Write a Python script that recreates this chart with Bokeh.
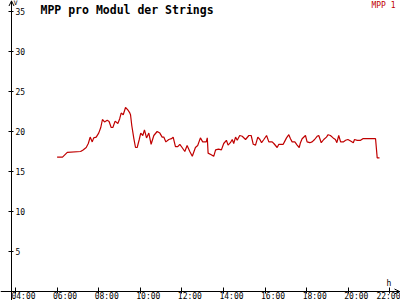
from bokeh.plotting import figure
from bokeh.models import LinearAxis, FixedTicker, Range1d, Arrow, OpenHead, Label
from bokeh.embed import file_html
from bokeh.resources import INLINE

# ---- data (time of day in decimal hours, MPP value per module) ----
hours = [6.00, 6.26, 6.49, 7.13, 7.25, 7.40, 7.50, 7.59, 7.69, 7.76, 7.88, 8.00, 8.10, 8.18,
         8.28, 8.41, 8.50, 8.60, 8.68, 8.79, 8.92, 9.01, 9.08, 9.18, 9.29, 9.40, 9.48, 9.53,
         9.59, 9.69, 9.77, 9.85, 9.95, 10.02, 10.12, 10.20, 10.30, 10.41, 10.52, 10.65, 10.81,
         10.94, 11.05, 11.13, 11.23, 11.37, 11.50, 11.58, 11.69, 11.80, 11.90, 12.01, 12.14,
         12.25, 12.38, 12.50, 12.65, 12.76, 12.89, 13.00, 13.17, 13.22, 13.26, 13.41, 13.53,
         13.62, 13.76, 13.90, 14.01, 14.14, 14.22, 14.33, 14.42, 14.49, 14.58, 14.66, 14.78,
         14.90, 15.06, 15.22, 15.33, 15.43, 15.54, 15.65, 15.75, 15.83, 15.94, 16.07, 16.18,
         16.34, 16.42, 16.58, 16.66, 16.87, 16.93, 17.03, 17.14, 17.22, 17.30, 17.43, 17.54,
         17.64, 17.70, 17.78, 17.94, 18.02, 18.15, 18.26, 18.38, 18.50, 18.58, 18.70, 18.82,
         18.95, 19.03, 19.14, 19.27, 19.38, 19.45, 19.54, 19.63, 19.76, 19.87, 19.98, 20.11,
         20.24, 20.30, 20.43, 20.59, 20.70, 21.31, 21.39, 21.50]
mpp = [16.8, 16.8, 17.4, 17.5, 17.7, 18.0, 18.5, 19.3, 18.7, 19.2, 19.3, 19.8, 20.5, 21.5,
       21.2, 21.4, 21.25, 20.5, 20.5, 21.3, 21.0, 21.6, 22.3, 22.1, 23.0, 22.7, 22.4, 22.1,
       20.75, 19.1, 18.0, 18.0, 19.0, 19.8, 19.5, 20.2, 19.2, 19.8, 18.4, 19.5, 20.0,
       19.8, 19.3, 19.3, 18.7, 19.0, 19.1, 19.3, 18.1, 18.1, 18.4, 18.0, 17.5,
       18.25, 17.5, 16.9, 18.0, 18.25, 19.2, 18.7, 18.7, 19.2, 17.3, 17.1, 16.9,
       17.7, 17.8, 17.7, 18.5, 18.9, 18.3, 18.6, 19.0, 18.5, 19.3, 18.9, 19.5,
       19.4, 19.0, 19.5, 19.5, 18.4, 18.3, 19.3, 19.0, 18.6, 19.0, 19.5, 18.7,
       18.7, 18.5, 18.0, 18.4, 18.4, 18.7, 19.2, 19.6, 19.1, 18.7, 18.7, 18.3,
       18.0, 18.6, 19.1, 19.5, 18.7, 18.6, 18.7, 19.0, 19.4, 19.5, 18.6, 19.0,
       19.3, 19.6, 19.5, 19.2, 19.0, 18.6, 19.5, 18.7, 18.7, 18.9, 19.0, 18.8,
       18.6, 19.0, 18.9, 18.9, 19.1, 19.1, 16.7, 16.7]

x_ticks = [4, 6, 8, 10, 12, 14, 16, 18, 20, 22]
x_tick_labels = ["04:00", "06:00", "08:00", "10:00", "12:00",
                 "14:00", "16:00", "18:00", "20:00", "22:00"]
y_ticks = [5, 10, 15, 20, 25, 30, 35]

title_text = "MPP pro Modul der Strings"
series_name = "MPP 1"
y_unit = "V"
x_unit = "h"

# ---- geometry helpers (pixel -> data) ----
PX_PER_H = 20.8
PX_PER_V = 8.0
X0 = 4 - 15 / PX_PER_H
ZERO_PX = 291


def dx(px):
    return X0 + px / PX_PER_H


def dy(py):
    return (ZERO_PX - py) / PX_PER_V


RED = "#c00000"
MONO = "DejaVu Sans Mono"

p = figure(width=400, height=300, output_backend="svg", toolbar_location=None,
           x_range=Range1d(dx(0), dx(400)), y_range=Range1d(dy(300), dy(0)),
           x_axis_type=None, y_axis_type=None, min_border=0,
           outline_line_color=None, background_fill_color="white",
           border_fill_color="white")
p.grid.visible = False

# label range shifted so that the time labels sit slightly right of the ticks
shift = 8 / PX_PER_H
p.extra_x_ranges = {"lbl": Range1d(dx(0) - shift, dx(400) - shift)}

# y axis (labels to the right of the line)
yax = LinearAxis(ticker=FixedTicker(ticks=y_ticks), fixed_location=dx(11),
                 axis_line_color="black", axis_line_width=1,
                 major_tick_in=3, major_tick_out=2, minor_tick_line_color=None,
                 major_label_standoff=2, major_label_text_font=MONO,
                 major_label_text_font_size="8px", major_label_text_color="black")
p.add_layout(yax, "right")

# x axis line and tick marks
xax = LinearAxis(ticker=FixedTicker(ticks=x_ticks), fixed_location=0,
                 axis_line_color="black", axis_line_width=1,
                 major_tick_in=4, major_tick_out=2, minor_tick_line_color=None,
                 major_label_overrides={t: "" for t in x_ticks},
                 major_label_text_font_size="8px")
p.add_layout(xax, "below")

# x axis time labels
xlab = LinearAxis(ticker=FixedTicker(ticks=x_ticks), fixed_location=0,
                  x_range_name="lbl", axis_line_color=None,
                  major_tick_line_color=None, minor_tick_line_color=None,
                  major_tick_in=0, major_tick_out=0, major_label_standoff=0,
                  major_label_overrides=dict(zip(x_ticks, x_tick_labels)),
                  major_label_text_font=MONO, major_label_text_font_size="8px",
                  major_label_text_color="black")
p.add_layout(xlab, "below")

# arrow heads
p.add_layout(Arrow(end=OpenHead(size=5, line_width=1, line_color="black"),
                   x_start=dx(11), y_start=dy(8), x_end=dx(11), y_end=dy(0.5),
                   line_color="black", line_width=1))
p.add_layout(Arrow(end=OpenHead(size=5, line_width=1, line_color="black"),
                   x_start=dx(390), y_start=0, x_end=dx(399), y_end=0,
                   line_color="black", line_width=1))

# data line
p.line(hours, mpp, line_color=RED, line_width=1.2)

# texts
p.add_layout(Label(x=dx(40), y=dy(9), text=title_text, text_font=MONO,
                   text_font_style="bold", text_font_size="11.5px",
                   text_color="black", text_baseline="middle", text_align="left"))
p.add_layout(Label(x=dx(395), y=dy(4.5), text=series_name, text_font=MONO,
                   text_font_size="8px", text_color=RED,
                   text_baseline="middle", text_align="right"))
p.add_layout(Label(x=dx(13), y=dy(2.5), text=y_unit, text_font=MONO,
                   text_font_size="7px", text_color="black",
                   text_baseline="middle", text_align="left"))
p.add_layout(Label(x=dx(386), y=dy(283), text=x_unit, text_font=MONO,
                   text_font_size="8px", text_color="black",
                   text_baseline="middle", text_align="left"))

open("out.html", "w").write(file_html(p, INLINE))
